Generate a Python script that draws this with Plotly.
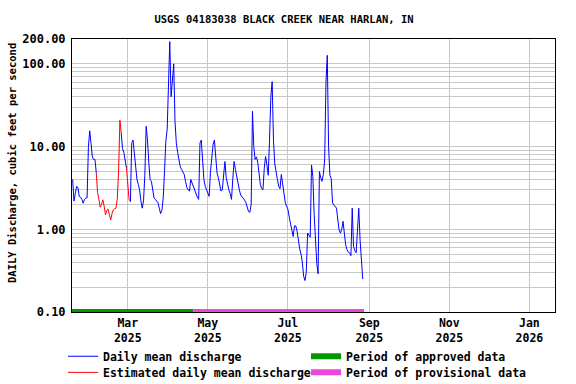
import pandas as pd
import plotly.graph_objects as go

TITLE = "USGS 04183038 BLACK CREEK NEAR HARLAN, IN"
Y_TITLE = "DAILY Discharge, cubic feet per second"
START_DATE = "2025-01-18"

# Daily mean discharge (cfs), one value per day starting at START_DATE
discharge = [
    4.0, 2.2, 2.7, 3.3, 3.2, 2.5, 2.45, 2.3, 2.07, 2.3,
    2.38, 2.4, 10.0, 15.5, 11.0, 7.5, 7.0, 7.0, 4.8, 2.8,
    2.3, 1.85, 2.0, 2.27, 1.9, 1.5, 1.7, 1.75, 1.5, 1.3,
    1.55, 1.72, 1.78, 1.8, 2.3, 5.0, 20.8, 14.6, 9.5, 8.5,
    6.3, 5.5, 3.45, 2.3, 2.16, 11.0, 12.0, 8.5, 5.5, 4.0,
    3.5, 3.0, 2.2, 1.8, 2.2, 4.5, 17.6, 12.0, 6.5, 4.0,
    3.8, 2.8, 2.4, 2.3, 2.2, 2.1, 1.8, 1.55, 1.7, 2.4,
    5.0, 11.6, 16.0, 60.0, 186.0, 40.0, 65.0, 100.0, 20.0, 11.0,
    8.5, 6.8, 5.7, 5.3, 4.9, 4.6, 3.8, 3.2, 3.0, 2.9,
    4.0, 3.6, 3.4, 3.1, 2.7, 2.45, 2.3, 11.0, 12.0, 6.2,
    4.0, 3.3, 3.0, 2.8, 2.5, 5.0, 8.4, 10.6, 12.0, 7.0,
    4.8, 4.2, 3.5, 2.9, 3.0, 4.5, 6.6, 4.2, 3.5, 3.0,
    2.7, 2.3, 4.0, 6.6, 5.3, 4.2, 3.4, 3.0, 2.6, 2.5,
    2.4, 2.25, 2.1, 1.9, 1.64, 1.6, 2.0, 26.7, 10.0, 7.0,
    7.5, 6.5, 4.8, 3.5, 3.1, 3.0, 5.5, 7.6, 6.0, 4.5,
    12.0, 40.0, 61.0, 12.0, 6.2, 4.6, 4.0, 3.3, 3.1, 4.6,
    3.5, 2.4, 2.1, 1.9, 1.75, 1.4, 1.15, 0.9, 0.82, 1.1,
    1.1, 0.95, 0.7, 0.58, 0.5, 0.4, 0.27, 0.24, 0.3, 0.9,
    0.85, 0.8, 6.0, 4.35, 1.5, 0.6, 0.39, 0.29, 5.0, 4.2,
    3.8, 4.6, 6.9, 60.0, 127.0, 10.0, 4.5, 4.1, 2.1, 1.95,
    1.9, 1.8, 1.3, 0.98, 0.9, 1.0, 1.25, 0.85, 0.65, 0.57,
    0.53, 0.52, 0.48, 1.8, 0.62, 0.55, 0.52, 0.98, 1.8, 0.74,
    0.45, 0.25,
]

# Index ranges (inclusive) of days whose values are estimated
estimated_ranges = [(19, 36), (42, 43)]

approved_period = ["2025-01-17", "2025-04-20"]
provisional_period = ["2025-04-20", "2025-08-28"]
period_level = 0.1

x_range = ["2025-01-17 12:00", "2026-01-20 12:00"]
x_tick_dates = ["2025-03-01", "2025-05-01", "2025-07-01", "2025-09-01", "2025-11-01", "2026-01-01"]
x_tick_labels = ["Mar<br>2025", "May<br>2025", "Jul<br>2025", "Sep<br>2025", "Nov<br>2025", "Jan<br>2026"]
y_tick_vals = [0.1, 1, 10, 100, 200]
y_tick_labels = ["0.10", "1.00", "10.00", "100.00", "200.00"]

dates = pd.date_range(START_DATE, periods=len(discharge), freq="D")

est = [False] * len(discharge)
for a, b in estimated_ranges:
    for i in range(a, b + 1):
        est[i] = True

blue_y = [v if not est[i] else None for i, v in enumerate(discharge)]
red_y = [None] * len(discharge)
for a, b in estimated_ranges:
    for i in range(max(a - 1, 0), min(b + 2, len(discharge))):
        red_y[i] = discharge[i]

FONT = "DejaVu Sans Mono"
GRID = "#c8c8c8"
LEG_FONT = dict(family=FONT, size=11.5, weight="bold")

fig = go.Figure()
fig.add_trace(go.Scatter(x=dates, y=blue_y, mode="lines", name="Daily mean discharge",
                         line=dict(color="#0000ff", width=1), connectgaps=False, legend="legend"))
fig.add_trace(go.Scatter(x=approved_period, y=[period_level] * 2, mode="lines",
                         name="Period of approved data", line=dict(color="#009900", width=6),
                         legend="legend"))
fig.add_trace(go.Scatter(x=dates, y=red_y, mode="lines", name="Estimated daily mean discharge",
                         line=dict(color="#ff0000", width=1), connectgaps=False, legend="legend2"))
fig.add_trace(go.Scatter(x=provisional_period, y=[period_level] * 2, mode="lines",
                         name="Period of provisional data", line=dict(color="#f044d8", width=6),
                         legend="legend2"))

minor_vals = [k * 10 ** e for e in (-1, 0, 1, 2) for k in range(1, 10) if k * 10 ** e <= 200]

legend_common = dict(orientation="h", x=-0.0186, xanchor="left", yanchor="top",
                     entrywidth=198, entrywidthmode="pixels", traceorder="normal",
                     font=LEG_FONT, itemwidth=30, bgcolor="rgba(0,0,0,0)")

fig.update_layout(
    width=576, height=384,
    margin=dict(l=72, r=21, t=39, b=72, autoexpand=False),
    paper_bgcolor="white", plot_bgcolor="white",
    font=dict(family=FONT, size=11, color="black", weight="bold"),
    title=dict(text=TITLE, x=284 / 576, xanchor="center", xref="container", y=1 - 19 / 384,
               yanchor="middle", yref="container", font=dict(family=FONT, size=10.5, weight="bold")),
    showlegend=True,
    legend=dict(legend_common, y=-0.109),
    legend2=dict(legend_common, y=-0.168),
    xaxis=dict(type="date", range=x_range, tickvals=x_tick_dates, ticktext=x_tick_labels,
               showgrid=True, gridcolor=GRID, gridwidth=1, ticks="", zeroline=False,
               showline=True, linecolor="black", linewidth=1, mirror=True,
               tickfont=dict(family=FONT, size=11.5, weight="bold")),
    yaxis=dict(type="log", range=[-1, 2.30103], tickvals=y_tick_vals, ticktext=y_tick_labels,
               showgrid=True, gridcolor=GRID, gridwidth=1, ticks="", ticklabelstandoff=3,
               minor=dict(tickvals=minor_vals, showgrid=True, gridcolor=GRID, gridwidth=1, ticks=""),
               showline=True, linecolor="black", linewidth=1, mirror=True,
               tickfont=dict(family=FONT, size=12, weight="bold")),
    annotations=[dict(text=Y_TITLE, textangle=-90, xref="paper", yref="paper",
                      x=(12 - 72) / 483, y=(312 - 163) / 273, xanchor="center", yanchor="middle",
                      showarrow=False, font=dict(family=FONT, size=10.5, weight="bold"))],
)

fig.write_html("out.html")
